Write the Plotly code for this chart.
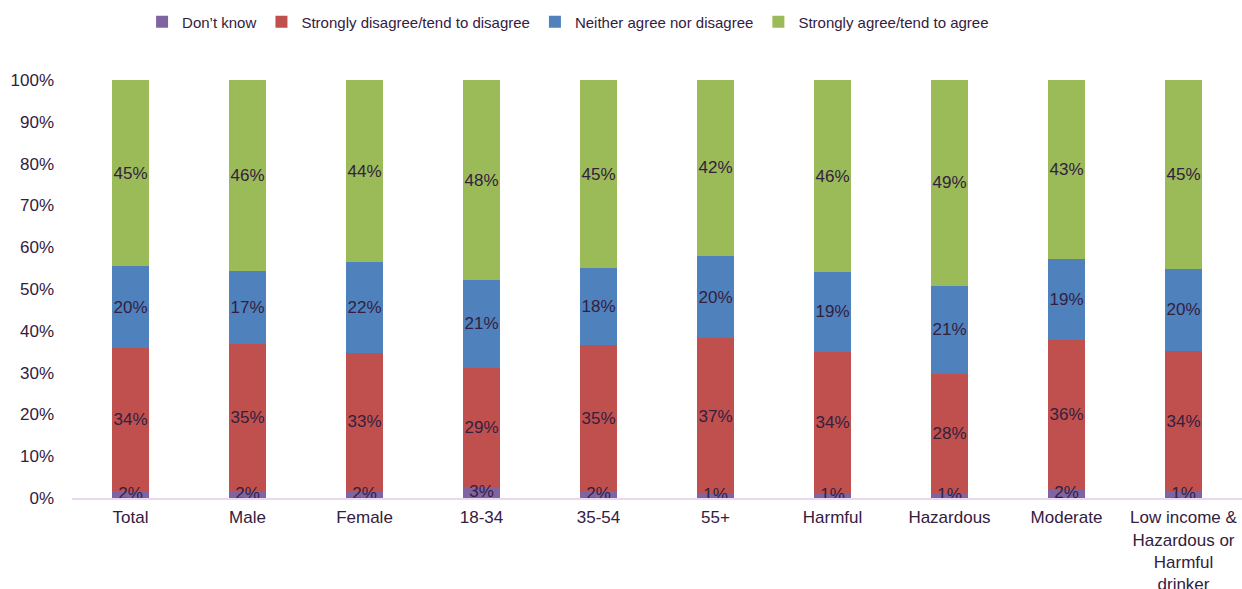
import plotly.graph_objects as go

categories = ["Total", "Male", "Female", "18-34", "35-54", "55+", "Harmful",
              "Hazardous", "Moderate", "Low income &<br>Hazardous or<br>Harmful<br>drinker"]

dont_know = [1.6, 1.6, 1.7, 2.6, 1.6, 0.9, 0.9, 1.2, 1.9, 1.4]
disagree = [34.2, 35.3, 33.1, 28.6, 35.0, 37.3, 34.1, 28.4, 36.0, 33.8]
neither = [19.6, 17.4, 21.6, 20.9, 18.4, 19.7, 19.0, 21.2, 19.3, 19.7]
agree = [44.6, 45.7, 43.6, 47.9, 45.0, 42.1, 46.0, 49.2, 42.8, 45.1]

y_ticks = list(range(0, 101, 10))
y_tick_labels = [f"{v}%" for v in y_ticks]

series = [
    ("Don\u2019t know", dont_know, "#8064a2"),
    ("Strongly disagree/tend to disagree", disagree, "#c0504d"),
    ("Neither agree nor disagree", neither, "#4f81bd"),
    ("Strongly agree/tend to agree", agree, "#9bbb59"),
]

TXT = "#33203f"
FONT = "Liberation Sans, Arial, sans-serif"

fig = go.Figure()
for i, (name, vals, col) in enumerate(series):
    small = i == 0
    fig.add_trace(go.Bar(
        x=categories, y=vals, name=name,
        marker=dict(color=col, line=dict(width=0)),
        texttemplate=None if small else "%{y:.0f}%",
        textposition="none" if small else "inside", textangle=0,
        insidetextanchor="middle", constraintext="none",
        textfont=dict(size=17, color=TXT, family=FONT),
        hoverinfo="skip",
    ))

# labels for the thin "Don't know" segments, centred on each segment
fig.add_trace(go.Scatter(
    x=categories, y=[v / 2 for v in dont_know], mode="text",
    text=[f"{v:.0f}%" for v in dont_know], textposition="middle center",
    textfont=dict(size=17, color=TXT, family=FONT),
    showlegend=False, cliponaxis=False, hoverinfo="skip",
))

fig.update_layout(
    barmode="stack", bargap=0.687,
    width=1242, height=589,
    margin=dict(l=72, r=0, t=80, b=91, autoexpand=False),
    paper_bgcolor="white", plot_bgcolor="white",
    font=dict(family=FONT, size=17, color=TXT),
    legend=dict(orientation="h", x=0.424, xanchor="center", y=1.139, yanchor="middle",
                font=dict(size=15, color=TXT, family=FONT), traceorder="normal",
                itemwidth=30, bgcolor="rgba(0,0,0,0)"),
    showlegend=True,
)
fig.update_xaxes(showline=True, linecolor="#ead8f0", linewidth=2, ticks="",
                 showgrid=False, tickfont=dict(size=17, color=TXT, family=FONT),
                 ticklabelstandoff=3)
fig.update_yaxes(range=[0, 100], tickmode="array", tickvals=y_ticks, ticktext=y_tick_labels,
                 showgrid=False, zeroline=False, showline=False, ticks="",
                 tickfont=dict(size=17, color=TXT, family=FONT), ticklabelstandoff=17)

fig.write_html("out.html")
